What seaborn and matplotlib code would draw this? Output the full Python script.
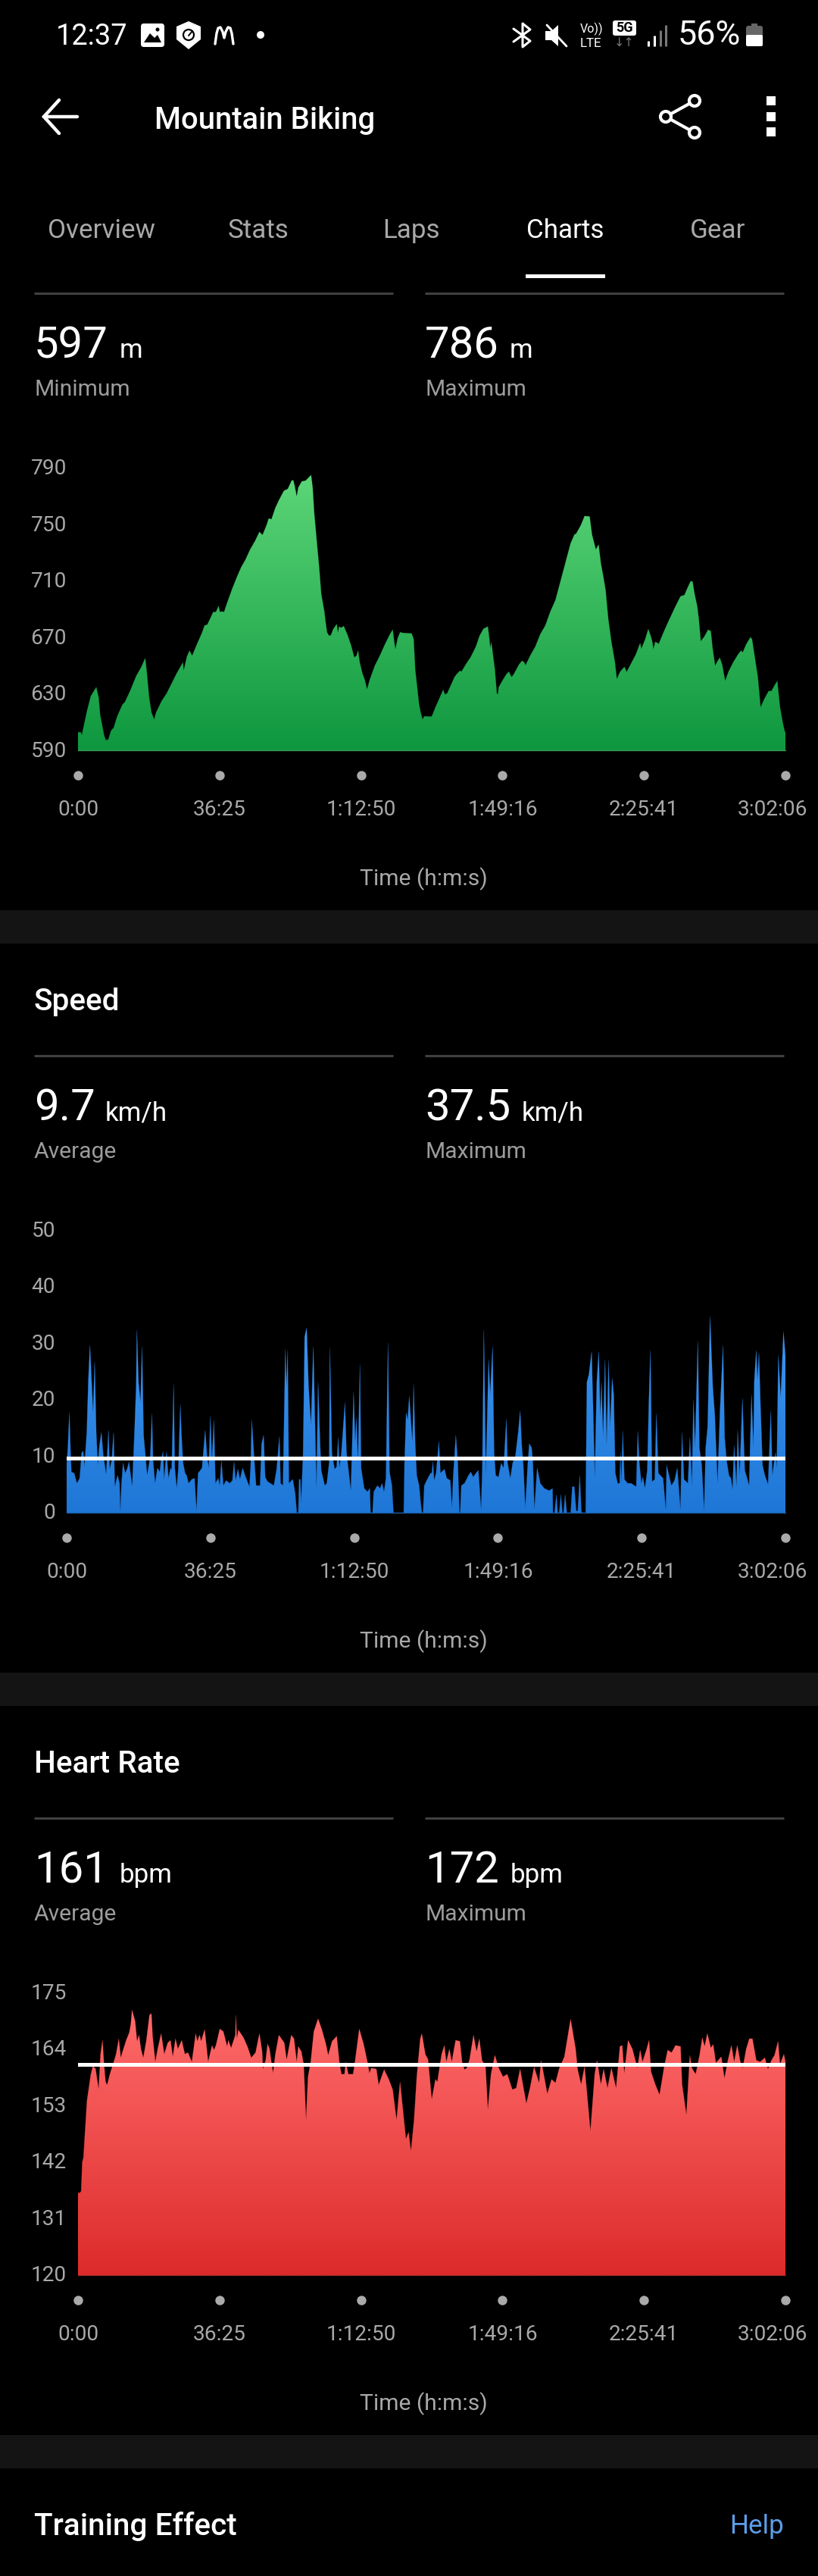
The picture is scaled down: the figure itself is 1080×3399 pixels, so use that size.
import numpy as np
import pandas as pd
import seaborn as sns
import matplotlib.pyplot as plt
from matplotlib.patches import Circle, FancyBboxPatch, PathPatch, Polygon, Rectangle
from matplotlib.transforms import ScaledTranslation

# time axis, minutes
tick_t = [0, 36.42, 72.83, 109.27, 145.68, 182.1]
tick_labels = ["0:00", "36:25", "1:12:50", "1:49:16", "2:25:41", "3:02:06"]

elev_ticks = [590, 630, 670, 710, 750, 790]
speed_ticks = [0, 10, 20, 30, 40, 50]
heart_ticks = [120, 131, 142, 153, 164, 175]
speed_avg = 9.7
heart_avg = 161

elev_t = [0.0, 0.7, 1.0, 1.4, 2.3, 3.3, 4.1, 4.7, 5.3, 5.7, 6.2, 6.7, 7.2, 7.5, 7.7, 8.5, 9.2, 10.1, 11.4, 12.1,
          13.4, 15.0, 16.3, 17.3, 17.7, 18.3, 18.9, 19.6, 20.1, 20.9, 21.5, 22.8, 24.1, 25.4, 27.0, 27.2, 28.0, 28.7, 29.0, 29.4,
          30.6, 31.9, 32.6, 33.3, 34.2, 34.8, 35.5, 36.2, 36.5, 37.0, 37.6, 38.4, 39.7, 41.0, 42.0, 43.1, 44.3, 45.6, 46.7, 47.5,
          48.5, 49.1, 49.8, 50.8, 51.7, 53.0, 54.0, 55.0, 55.4, 55.8, 56.3, 56.7, 57.6, 58.6, 59.5, 60.0, 60.4, 60.8, 61.5, 62.1,
          62.6, 63.4, 63.8, 64.1, 64.6, 65.1, 65.7, 66.6, 66.9, 67.2, 67.7, 68.4, 69.3, 70.3, 71.1, 71.7, 72.1, 72.5, 73.2, 73.8,
          74.4, 75.1, 76.4, 77.7, 79.0, 80.3, 81.0, 81.4, 81.7, 82.3, 82.9, 83.6, 85.9, 86.4, 86.8, 87.3, 87.8, 88.2, 88.7, 89.1,
          91.05, 92.0, 93.0, 94.0, 94.4, 95.0, 95.9, 96.9, 97.5, 98.3, 98.7, 99.8, 101.1, 102.4, 103.4, 104.4, 105.5, 105.9, 106.1, 106.4,
          106.8, 107.3, 107.8, 108.1, 108.3, 109.2, 110.2, 110.9, 111.6, 112.2, 113.5, 114.3, 114.8, 115.2, 116.4, 117.7, 119.0, 120.3, 121.6, 122.9,
          124.2, 125.5, 126.8, 127.8, 128.2, 129.4, 130.4, 131.7, 132.3, 132.8, 133.3, 134.0, 134.6, 135.2, 135.8, 136.5, 137.3, 138.2, 138.7, 139.5,
          140.3, 140.7, 141.2, 142.4, 143.6, 144.7, 145.0, 146.0, 146.8, 147.6, 147.9, 148.1, 148.6, 149.2, 149.5, 150.8, 152.1, 153.8, 155.1, 156.1,
          156.8, 157.7, 158.2, 158.7, 159.4, 159.8, 160.3, 161.2, 162.2, 162.9, 163.3, 164.0, 164.5, 165.2, 165.8, 166.6, 167.4, 168.7, 170.0, 170.7,
          171.1, 172.0, 173.1, 173.5, 174.2, 175.0, 175.7, 176.7, 177.8, 178.5, 179.4, 180.0, 180.7, 181.4, 181.9, 182.1]
elev_v = [603.0, 603.0, 600.9, 606.3, 617.9, 628.6, 632.2, 634.9, 627.7, 615.2, 608.1, 600.9, 597.0, 598.2, 597.0, 604.1, 606.3, 614.3, 622.4, 624.5,
          632.2, 642.9, 649.2, 655.4, 645.6, 627.7, 617.0, 612.0, 617.0, 621.5, 625.0, 630.4, 637.5, 644.7, 652.4, 646.5, 656.3, 660.8, 659.0, 657.2,
          665.2, 673.3, 678.6, 679.2, 684.5, 688.1, 688.1, 692.4, 688.1, 688.5, 688.1, 694.7, 704.6, 713.5, 719.8, 725.1, 732.3, 738.5, 744.8, 742.6,
          749.3, 754.3, 753.7, 761.8, 767.1, 773.9, 775.2, 781.1, 781.4, 777.0, 769.8, 776.1, 780.5, 781.1, 783.6, 785.0, 776.1, 758.2, 736.7, 718.9,
          701.0, 688.5, 679.5, 673.8, 671.3, 671.7, 676.0, 679.5, 673.3, 677.8, 676.9, 678.1, 672.4, 664.4, 656.0, 657.2, 660.8, 652.7, 644.7, 640.2,
          633.4, 640.2, 650.1, 657.2, 665.2, 672.4, 675.6, 667.0, 661.7, 669.7, 673.8, 673.3, 672.9, 668.8, 647.4, 634.9, 622.4, 617.0, 612.0, 614.3,
          614.1, 620.6, 626.8, 633.1, 629.9, 630.4, 635.8, 642.0, 644.2, 646.5, 645.9, 650.9, 656.3, 663.5, 671.5, 676.3, 677.8, 668.8, 662.6, 666.7,
          658.1, 647.4, 630.4, 629.9, 634.9, 639.3, 643.8, 645.9, 642.0, 644.2, 650.9, 653.6, 652.7, 650.4, 657.2, 663.5, 672.4, 678.6, 688.5, 696.5,
          709.9, 723.3, 736.7, 743.0, 743.4, 749.3, 756.0, 755.7, 743.0, 737.6, 732.3, 735.8, 722.4, 713.5, 703.7, 683.1, 667.0, 652.7, 640.6, 645.6,
          648.3, 649.2, 645.6, 651.8, 658.1, 666.1, 662.0, 668.8, 676.0, 669.7, 666.1, 661.7, 667.0, 666.1, 665.6, 674.2, 682.2, 692.1, 699.2, 700.1,
          704.6, 709.9, 709.6, 701.0, 692.1, 683.1, 667.4, 670.6, 675.6, 674.5, 663.5, 650.1, 652.7, 655.8, 650.9, 639.3, 645.6, 652.7, 658.5, 660.8,
          659.5, 665.2, 670.3, 668.8, 656.3, 642.0, 620.6, 626.8, 632.2, 632.2, 636.6, 639.3, 620.6, 609.8, 603.6, 603.0]

speed_t = [0.0, 0.3, 0.7, 1.0, 1.2, 1.9, 2.6, 3.3, 3.8, 4.2, 4.5, 5.1, 5.5, 5.9, 6.3, 6.7, 7.1, 7.5, 7.9, 8.3,
           8.8, 9.3, 10.0, 10.4, 10.6, 10.9, 11.4, 11.9, 12.2, 12.9, 13.4, 13.6, 13.9, 14.3, 14.8, 15.3, 15.8, 16.6, 17.2, 17.6,
           17.8, 18.2, 18.7, 19.1, 19.5, 19.9, 20.4, 21.2, 21.6, 21.9, 22.4, 23.0, 23.6, 23.9, 24.4, 24.7, 25.3, 25.8, 26.3, 26.6,
           27.1, 27.4, 27.9, 28.3, 28.8, 29.1, 29.5, 30.0, 30.4, 30.9, 31.7, 32.4, 32.9, 33.3, 34.3, 35.1, 35.6, 36.0, 36.4, 36.8,
           37.3, 37.7, 38.4, 38.8, 39.2, 39.7, 40.4, 41.3, 42.0, 42.4, 42.8, 43.4, 43.9, 44.6, 45.2, 46.3, 46.6, 46.9, 47.5, 48.0,
           49.0, 49.4, 49.9, 50.3, 50.9, 51.6, 52.5, 53.2, 53.9, 54.2, 54.8, 55.4, 55.7, 56.0, 56.3, 57.3, 57.9, 58.3, 58.7, 58.9,
           59.2, 59.4, 59.9, 60.3, 60.8, 61.3, 61.9, 62.5, 62.9, 63.3, 63.7, 64.2, 64.5, 65.4, 65.9, 66.5, 66.7, 67.2, 67.9, 68.4,
           68.8, 69.1, 69.6, 70.5, 70.9, 72.0, 72.7, 73.1, 73.4, 73.8, 74.3, 74.6, 75.4, 76.2, 76.8, 77.0, 77.5, 77.8, 78.7, 79.4,
           79.9, 80.4, 80.9, 81.4, 81.8, 82.4, 82.8, 85.4, 85.6, 86.0, 86.4, 86.8, 87.2, 87.6, 87.9, 88.3, 88.7, 89.3, 89.7, 90.0,
           90.3, 90.6, 91.5, 92.2, 92.5, 92.8, 93.1, 93.6, 94.3, 94.7, 95.7, 96.3, 97.2, 97.6, 97.9, 98.6, 99.1, 99.5, 99.7, 100.0,
           100.8, 101.8, 102.4, 103.0, 103.7, 104.3, 105.0, 105.3, 105.7, 106.2, 106.9, 107.3, 107.9, 108.3, 108.7, 109.4, 110.1, 110.7, 111.4, 111.7,
           112.4, 113.0, 113.7, 114.4, 114.9, 115.3, 115.7, 116.2, 116.8, 117.2, 117.8, 118.1, 118.5, 119.2, 120.0, 121.0, 122.2, 122.7, 123.1, 123.2,
           123.6, 124.1, 124.4, 124.8, 125.2, 125.6, 125.9, 126.3, 126.7, 127.7, 128.1, 128.6, 129.1, 129.5, 130.0, 130.4, 130.5, 131.5, 131.6, 131.8,
           132.3, 133.0, 133.4, 133.8, 134.3, 134.8, 135.2, 135.5, 135.9, 136.4, 136.8, 137.3, 137.7, 138.2, 138.6, 139.0, 139.6, 140.1, 140.3, 140.5,
           140.9, 141.3, 142.1, 143.0, 144.3, 144.7, 145.1, 145.6, 146.0, 146.5, 147.1, 147.5, 147.9, 148.3, 149.0, 149.4, 149.9, 150.4, 151.1, 151.8,
           152.0, 152.6, 153.2, 154.0, 154.7, 155.5, 155.9, 156.4, 157.4, 157.9, 158.4, 158.8, 159.2, 159.9, 160.3, 160.9, 161.5, 161.9, 162.4, 163.0,
           163.7, 164.2, 164.9, 165.5, 166.3, 166.7, 167.2, 167.8, 168.3, 168.7, 169.1, 169.7, 170.0, 170.5, 171.2, 171.8, 172.4, 172.9, 173.5, 174.0,
           174.2, 174.7, 175.0, 175.4, 175.8, 176.3, 176.9, 177.7, 178.4, 178.8, 179.2, 179.6, 179.9, 180.3, 180.9, 181.6, 182.1]
speed_v = [8.4, 11.5, 17.7, 10.6, 7.2, 7.0, 5.2, 6.1, 10.6, 10.9, 8.1, 14.2, 23.5, 29.6, 23.5, 17.7, 26.7, 14.2, 8.4, 11.9,
           14.2, 10.1, 6.8, 11.9, 14.6, 7.7, 9.2, 14.2, 4.6, 6.6, 5.2, 0.1, 5.2, 8.8, 7.0, 7.7, 9.0, 4.6, 14.6, 22.2,
           32.3, 23.1, 19.5, 29.4, 13.7, 10.6, 6.6, 10.1, 17.5, 9.2, 5.2, 7.9, 7.2, 9.2, 10.8, 5.9, 10.8, 6.1, 7.9, 7.5,
           22.7, 7.9, 4.3, 7.9, 19.1, 13.7, 8.8, 7.0, 6.6, 5.2, 5.9, 6.1, 0.3, 7.0, 7.9, 14.6, 9.7, 7.9, 17.1, 9.2,
           16.4, 5.2, 6.1, 4.8, 9.2, 4.8, 5.7, 5.2, 5.7, 9.0, 5.7, 7.7, 5.9, 7.9, 6.6, 4.6, 7.9, 16.4, 9.7, 4.8,
           4.8, 12.2, 13.7, 6.3, 5.5, 5.2, 4.8, 7.7, 13.5, 5.2, 4.8, 28.9, 22.2, 28.7, 5.2, 5.9, 3.4, 0.0, 0.0, 5.9,
           5.9, 1.7, 10.6, 31.1, 32.7, 22.2, 15.5, 29.4, 16.4, 4.3, 23.1, 12.4, 7.5, 4.8, 5.2, 8.8, 29.1, 10.6, 7.7, 8.1,
           13.3, 7.9, 10.6, 19.5, 10.6, 3.9, 21.3, 12.4, 16.8, 8.8, 26.2, 7.9, 4.3, 3.7, 4.3, 0.0, 0.0, 3.7, 4.8, 4.3,
           5.2, 3.7, 6.1, 30.0, 7.2, 4.8, 0.0, 0.0, 8.8, 17.7, 16.4, 20.6, 16.4, 12.4, 22.7, 12.4, 6.6, 4.8, 1.7, 0.0,
           0.0, 4.8, 6.1, 7.0, 7.0, 9.0, 5.7, 7.0, 12.6, 7.0, 7.7, 6.1, 5.7, 0.8, 6.1, 13.7, 8.8, 0.0, 0.0, 4.8,
           5.2, 6.6, 7.2, 6.3, 7.0, 7.5, 0.5, 7.9, 32.3, 6.6, 27.1, 20.9, 29.4, 10.6, 6.6, 6.3, 8.8, 7.9, 16.6, 8.8,
           6.1, 8.8, 10.1, 14.2, 18.0, 11.9, 8.4, 0.8, 8.4, 12.2, 11.5, 9.2, 0.5, 7.9, 5.2, 4.3, 3.9, 4.1, 4.3, 0.0,
           0.0, 3.2, 0.0, 0.0, 3.2, 0.0, 0.0, 3.2, 0.0, 0.0, 4.6, 4.6, 0.3, 0.3, 6.6, 0.3, 0.0, 0.0, 8.8, 23.1,
           24.4, 28.5, 17.7, 6.1, 23.1, 28.5, 16.8, 23.1, 13.3, 27.1, 11.9, 26.9, 15.1, 23.8, 20.9, 7.0, 5.2, 5.2, 10.8, 5.2,
           14.4, 5.9, 5.2, 5.2, 4.6, 14.4, 8.8, 5.2, 6.3, 4.3, 7.5, 19.5, 28.7, 5.5, 5.9, 17.5, 7.0, 6.6, 6.1, 0.5,
           8.4, 6.6, 4.8, 5.7, 7.9, 0.5, 14.2, 5.9, 5.2, 13.3, 4.8, 20.0, 11.5, 30.3, 11.5, 8.4, 0.3, 11.5, 15.3, 34.7,
           22.2, 17.3, 5.2, 17.7, 29.6, 13.3, 9.2, 6.6, 6.1, 4.1, 11.9, 4.6, 14.6, 6.6, 20.2, 7.5, 6.1, 4.8, 20.9, 11.5,
           23.1, 28.7, 23.5, 28.2, 18.6, 8.4, 6.6, 5.0, 18.0, 6.6, 8.8, 10.6, 7.9, 27.8, 20.4, 32.0, 27.6]

heart_t = [0.0, 0.4, 0.8, 1.1, 1.4, 2.3, 3.3, 3.8, 4.5, 5.3, 5.8, 6.3, 6.7, 7.1, 7.5, 8.2, 9.2, 9.8, 10.5, 11.0,
           11.6, 12.4, 13.2, 13.6, 13.9, 14.7, 15.2, 15.7, 16.2, 16.8, 17.6, 18.4, 18.9, 19.2, 19.9, 20.5, 21.4, 22.2, 23.1, 23.8,
           24.4, 25.1, 25.7, 26.7, 27.5, 28.3, 29.3, 30.3, 30.7, 31.3, 31.7, 32.6, 33.5, 34.5, 35.0, 35.5, 36.5, 37.4, 38.4, 38.7,
           39.4, 40.5, 40.6, 40.9, 41.3, 42.6, 43.6, 44.6, 45.7, 46.7, 47.4, 47.6, 48.3, 48.8, 49.3, 50.2, 50.8, 51.7, 53.1, 53.7,
           54.9, 55.6, 56.3, 56.7, 57.5, 58.1, 58.7, 59.2, 59.9, 60.7, 61.8, 62.8, 63.8, 64.4, 65.4, 66.6, 67.3, 67.8, 68.6, 68.9,
           69.6, 70.8, 71.2, 72.4, 73.5, 74.5, 75.0, 75.5, 76.8, 77.4, 77.9, 78.8, 80.0, 81.0, 82.0, 82.9, 84.4, 85.1, 85.7, 86.5,
           87.2, 88.1, 88.5, 89.4, 90.1, 91.05, 92.0, 92.5, 93.0, 93.6, 94.3, 94.8, 95.6, 96.2, 97.2, 98.3, 98.9, 99.5, 100.1, 100.8,
           101.8, 102.6, 103.3, 104.0, 104.9, 105.5, 106.3, 107.3, 108.3, 109.4, 110.5, 111.8, 112.8, 113.8, 115.4, 116.4, 117.4, 118.7, 119.2, 120.0,
           120.8, 121.9, 122.9, 123.9, 125.2, 126.8, 128.1, 128.6, 129.5, 130.4, 131.9, 133.0, 133.6, 134.6, 135.3, 136.3, 137.3, 138.5, 139.5, 140.1,
           140.6, 141.6, 142.7, 144.0, 144.7, 145.3, 146.3, 147.0, 147.5, 148.6, 149.7, 150.9, 151.8, 152.8, 153.8, 155.1, 155.5, 156.6, 157.5, 158.0,
           159.0, 160.0, 160.7, 161.3, 162.0, 162.9, 163.5, 164.2, 165.6, 166.4, 167.2, 168.2, 168.9, 169.7, 170.5, 171.1, 172.0, 172.8, 173.6, 174.6,
           175.6, 176.8, 177.6, 178.5, 179.3, 180.2, 180.7, 181.7, 182.1]
heart_v = [136.0, 136.0, 136.3, 142.0, 142.9, 153.9, 159.1, 160.6, 160.2, 156.2, 163.0, 165.7, 161.0, 157.6, 157.0, 159.1, 161.5, 163.0, 166.0, 162.3,
           163.8, 165.7, 167.2, 168.9, 171.6, 169.4, 165.5, 166.7, 164.0, 162.3, 165.7, 170.6, 170.9, 166.5, 161.5, 164.0, 167.0, 163.0, 165.2, 165.7,
           162.5, 166.0, 164.0, 165.7, 163.0, 163.3, 161.5, 167.0, 165.5, 166.7, 165.5, 167.8, 161.5, 164.7, 163.8, 164.7, 167.9, 167.4, 164.5, 165.7,
           164.2, 166.7, 170.6, 166.0, 167.7, 166.2, 164.5, 162.3, 163.3, 167.0, 163.5, 160.1, 161.8, 165.0, 164.0, 159.3, 163.0, 166.7, 165.2, 161.9,
           166.7, 166.0, 161.5, 164.5, 163.5, 161.0, 150.2, 158.6, 161.5, 167.4, 169.9, 167.7, 165.0, 162.8, 165.5, 166.5, 161.3, 159.1, 159.1, 161.5,
           159.1, 159.1, 161.0, 167.9, 165.0, 161.5, 159.3, 160.3, 160.1, 157.0, 158.1, 160.0, 158.1, 156.1, 150.2, 157.6, 146.5, 147.8, 144.1, 150.2,
           158.6, 166.0, 167.0, 163.0, 162.0, 154.2, 158.1, 157.6, 160.1, 163.0, 164.7, 161.5, 164.0, 161.5, 165.7, 165.5, 161.3, 160.0, 160.3, 162.0,
           166.7, 163.5, 166.0, 161.8, 160.6, 152.2, 159.1, 162.8, 160.3, 158.6, 159.1, 156.1, 156.4, 160.1, 153.4, 156.6, 160.5, 157.4, 161.8, 158.6,
           155.3, 158.1, 157.4, 160.3, 162.5, 169.8, 164.0, 160.1, 157.1, 160.6, 148.0, 159.1, 161.8, 157.1, 160.1, 156.4, 160.3, 156.4, 164.5, 164.7,
           159.3, 165.7, 164.0, 160.3, 163.8, 161.5, 163.8, 165.7, 159.6, 157.1, 155.1, 160.6, 163.8, 163.3, 164.7, 164.5, 157.1, 151.2, 162.8, 160.3,
           159.1, 162.8, 166.2, 164.5, 167.0, 164.2, 164.9, 161.3, 162.5, 158.3, 161.5, 164.7, 161.5, 164.7, 161.5, 160.3, 164.0, 166.0, 166.0, 161.8,
           161.5, 162.3, 160.1, 161.8, 162.8, 165.5, 161.0, 163.0, 161.5]

W, H = 1080, 3399
GREY = "#a8a8a8"

sns.set_theme(style="dark", rc={"axes.facecolor": "black", "figure.facecolor": "black", "axes.grid": False})
plt.rcParams["font.family"] = ["Roboto", "DejaVu Sans"]

fig = plt.figure(figsize=(W / 100, H / 100), dpi=100)

# whole page in pixel coordinates, for the app chrome
page = fig.add_axes([0, 0, 1, 1])
page.set_xlim(0, W)
page.set_ylim(H, 0)
page.axis("off")


def px(size):
    return size * 0.72


def chart(df, left, top, bottom, yticks, top_col, bot_col, base_col, avg=None):
    ax = fig.add_axes([left / W, 1 - bottom / H, (1037 - left) / W, (bottom - top) / H])
    base = yticks[0]
    sns.lineplot(data=df, x="t", y="v", ax=ax, color=bot_col, linewidth=0.4, alpha=0.5, estimator=None, sort=False, errorbar=None)
    # gradient fill, clipped to the area under the curve
    poly = ax.fill_between(df["t"], base, df["v"], color="none", linewidth=0)
    cmap = sns.blend_palette([bot_col, top_col], as_cmap=True)
    im = ax.imshow(np.linspace(1, 0, 256)[:, None], cmap=cmap, aspect="auto",
                   extent=[0, tick_t[-1], base, df["v"].max()], zorder=2)
    clip = PathPatch(poly.get_paths()[0], transform=ax.transData, facecolor="none", edgecolor="none")
    ax.add_patch(clip)
    im.set_clip_path(clip)
    ax.axhline(base, color=base_col, linewidth=0.9, zorder=3, clip_on=False)
    if avg is not None:
        ax.axhline(avg, color="white", linewidth=3.6, zorder=4)
    # round tick dots under the plot
    sns.scatterplot(x=tick_t, y=[-33 / (bottom - top)] * 6, ax=ax, color="#aaaaaa", s=80, linewidth=0,
                    legend=False, clip_on=False, transform=ax.get_xaxis_transform(), zorder=5)
    ax.set_xlim(0, tick_t[-1])
    ax.set_ylim(yticks[0], yticks[-1])
    ax.set_xticks(tick_t)
    ax.set_xticklabels(tick_labels)
    ax.set_yticks(yticks)
    ax.tick_params(axis="x", length=0, pad=46.5, labelsize=px(28), labelcolor=GREY)
    ax.tick_params(axis="y", length=0, pad=10.8, labelsize=px(28), labelcolor=GREY)
    ax.set_ylabel("")
    ax.set_xlabel("Time (h:m:s)", fontsize=px(30), color=GREY, va="center")
    ax.xaxis.set_label_coords((559 - left) / (1037 - left), -169.5 / (bottom - top))
    # last label is pushed in so it stays on screen
    last = ax.get_xticklabels()[-1]
    last.set_transform(last.get_transform() + ScaledTranslation(-17 / 100, 0, fig.dpi_scale_trans))
    for label in ax.get_yticklabels():
        label.set_transform(label.get_transform() + ScaledTranslation(0, 2 / 100, fig.dpi_scale_trans))
    sns.despine(ax=ax, left=True, bottom=True)
    return ax


def stats(offset, value_l, unit_l, unit_lx, name_l, value_r, unit_r, unit_rx, name_r):
    for x0, x1 in [(45, 519), (561, 1035)]:
        page.plot([x0, x1], [387 + offset] * 2, color="#404040", linewidth=2.2, solid_capstyle="butt")
    page.text(45, 472 + offset, value_l, fontsize=px(58), color="white", va="baseline")
    page.text(unit_lx, 472 + offset, unit_l, fontsize=px(35), color="white", va="baseline")
    page.text(45, 522 + offset, name_l, fontsize=px(30), color="#9c9c9c", va="baseline")
    page.text(561, 472 + offset, value_r, fontsize=px(58), color="white", va="baseline")
    page.text(unit_rx, 472 + offset, unit_r, fontsize=px(35), color="white", va="baseline")
    page.text(561, 522 + offset, name_r, fontsize=px(30), color="#9c9c9c", va="baseline")


# section gaps
for y0 in [1201, 2207, 3213]:
    page.add_patch(Rectangle((0, y0), W, 44, facecolor="#141414", edgecolor="none"))

# status bar
page.text(74, 59, "12:37", fontsize=px(38), color="white", va="baseline")
page.add_patch(FancyBboxPatch((188, 33), 27, 27, boxstyle="round,pad=2,rounding_size=4", facecolor="white", edgecolor="none"))
page.add_patch(Polygon([(190, 56), (198, 44), (204, 50), (208, 46), (213, 56)], facecolor="black", edgecolor="none"))
page.add_patch(Circle((208, 39), 2.5, facecolor="black", edgecolor="none"))
page.add_patch(Polygon([(233, 35), (249, 28), (265, 35), (265, 52), (249, 65), (233, 52)], facecolor="white", edgecolor="none"))
page.add_patch(Circle((249, 46), 7, facecolor="white", edgecolor="black", linewidth=1.6))
page.plot([249, 254], [47, 41], color="black", linewidth=1.4)
page.plot([284, 286, 288, 291, 294, 296, 298, 301, 304, 306, 308], [58, 44, 37, 36, 42, 50, 42, 36, 37, 44, 58], color="white", linewidth=2.4)
page.add_patch(Circle((344, 46), 5, facecolor="white", edgecolor="none"))
page.plot([678, 700, 690, 690, 700, 678], [38, 54, 62, 31, 39, 55], color="white", linewidth=2.2)
page.add_patch(Polygon([(720, 41), (728, 41), (737, 33), (737, 61), (728, 53), (720, 53)], facecolor="white", edgecolor="none"))
page.plot([722, 748], [33, 61], color="white", linewidth=2)
page.text(766, 43, "Vo))", fontsize=px(16), color="white", va="baseline")
page.text(766, 62, "LTE", fontsize=px(17), color="white", va="baseline")
page.add_patch(FancyBboxPatch((811, 29), 27, 16, boxstyle="round,pad=2,rounding_size=3", facecolor="white", edgecolor="none"))
page.text(824.5, 37, "5G", fontsize=px(18), color="black", weight="bold", ha="center", va="center")
page.text(824.5, 56, "↓↑", fontsize=px(16), color="#777777", ha="center", va="center")
for bar_x, bar_top, bar_col in [(856, 54, "white"), (864, 47, "white"), (872, 40, "#777777"), (879, 33, "#777777")]:
    page.plot([bar_x, bar_x], [bar_top, 61], color=bar_col, linewidth=2.2, solid_capstyle="butt")
page.text(895, 59, "56%", fontsize=px(45), color="white", va="baseline")
page.add_patch(FancyBboxPatch((987, 36), 18, 23, boxstyle="round,pad=2,rounding_size=3", facecolor="#666666", edgecolor="none"))
page.add_patch(Rectangle((992, 31), 8, 4, facecolor="#666666", edgecolor="none"))
page.add_patch(FancyBboxPatch((987, 48), 18, 11, boxstyle="round,pad=2,rounding_size=2", facecolor="white", edgecolor="none"))

# app bar
page.plot([78, 58, 78], [132, 154, 176], color="white", linewidth=3.2, solid_joinstyle="miter")
page.plot([58, 102], [154, 154], color="white", linewidth=3.2)
page.text(204, 170, "Mountain Biking", fontsize=px(40), color="white", weight="medium", va="baseline")
page.plot([917, 879, 917], [133, 154, 175], color="white", linewidth=3.0)
for nx, ny in [(917, 133), (879, 154), (917, 175)]:
    page.add_patch(Circle((nx, ny), 7, facecolor="black", edgecolor="white", linewidth=3.0, zorder=3))
for ky in [133, 154, 174]:
    page.add_patch(Rectangle((1012, ky - 6), 12, 12, facecolor="white", edgecolor="none"))

# tabs
tabs = ["Overview", "Stats", "Laps", "Charts", "Gear"]
tab_x = [134, 341, 543, 746, 948]
for tab, x in zip(tabs, tab_x):
    page.text(x, 313.5, tab, fontsize=px(35), color="white" if tab == "Charts" else GREY, ha="center", va="baseline")
page.add_patch(Rectangle((694, 361.5), 105, 5.5, facecolor="white", edgecolor="none"))

# elevation panel
stats(0, "597", "m", 158, "Minimum", "786", "m", 673, "Maximum")
chart(pd.DataFrame({"t": elev_t, "v": elev_v}), 103, 617.5, 990.5, elev_ticks, "#5cd678", "#0e973f", "#3aa056")

# speed panel
page.text(45, 1333, "Speed", fontsize=px(40.5), color="white", weight="medium", va="baseline")
stats(1006, "9.7", "km/h", 139, "Average", "37.5", "km/h", 689, "Maximum")
chart(pd.DataFrame({"t": speed_t, "v": speed_v}), 88, 1623, 1996, speed_ticks, "#3f97f2", "#1e76d6", "#1a5fa8", speed_avg)

# heart rate panel
page.text(45, 2339, "Heart Rate", fontsize=px(40.5), color="white", weight="medium", va="baseline")
stats(2012, "161", "bpm", 158, "Average", "172", "bpm", 674, "Maximum")
chart(pd.DataFrame({"t": heart_t, "v": heart_v}), 103, 2629, 3002, heart_ticks, "#ff6b6b", "#dd2b2b", "#a02a2a", heart_avg)

# footer
page.text(45, 3345, "Training Effect", fontsize=px(40.5), color="white", weight="medium", va="baseline")
page.text(1035, 3343, "Help", fontsize=px(35), color="#5b9ee8", ha="right", va="baseline")

fig.savefig("out.png", dpi=100, facecolor="black")
